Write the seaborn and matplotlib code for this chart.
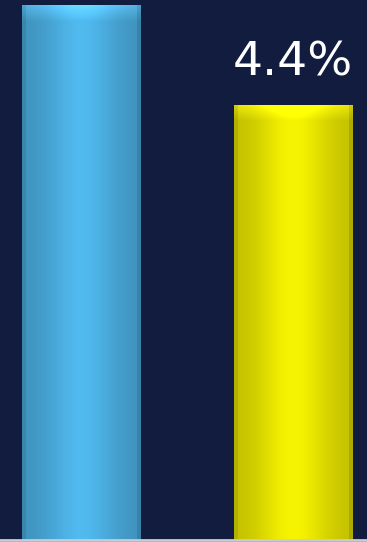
import numpy as np
import pandas as pd
import seaborn as sns
import matplotlib.pyplot as plt
from matplotlib.colors import to_rgb

# Data
categories = ["A", "B"]
values = [5.41, 4.4]
bar_colors = ["#4fb6ea", "#f2ef00"]
labels = [None, "4.4%"]

bg = "#111c3e"
PX_PER_UNIT = 98.86


def shade_bar(ax, patch, color):
    # soft cylinder-like shading with a bevelled top, clipped to the bar
    x0, y0 = patch.get_x(), patch.get_y()
    w, h = patch.get_width(), patch.get_height()
    nx, ny = 120, int(h * PX_PER_UNIT)
    xs = np.linspace(0, 1, nx)
    prof = 0.8 + 0.22 * np.exp(-((xs - 0.5) / 0.3) ** 2)
    prof[xs < 0.03] *= 0.9
    prof[xs > 0.97] *= 0.88
    img = np.ones((ny, nx, 3)) * np.array(to_rgb(color))
    img *= prof[None, :, None]
    # top bevel: ~16 px, brightest at the top, fading down
    bev = 16
    for i in range(min(bev, ny)):
        f = 1 - i / bev
        img[i] = img[i] * (1 + 0.12 * f) + 0.05 * f
    img = np.clip(img, 0, 1)
    im = ax.imshow(img, extent=(x0, x0 + w, y0, y0 + h), aspect="auto",
                   origin="upper", zorder=3, interpolation="bilinear")
    im.set_clip_path(patch)


def plot_chart():
    df = pd.DataFrame({"cat": categories, "val": values})

    fig = plt.figure(figsize=(3.67, 5.42), dpi=100, facecolor=bg)
    ax = fig.add_axes([0, 0, 1, 1])
    ax.set_facecolor(bg)

    sns.barplot(data=df, x="cat", y="val", hue="cat", palette=bar_colors,
                width=0.56, legend=False, ax=ax, saturation=1)

    for patch, color in zip(ax.patches, bar_colors):
        patch.set_edgecolor("none")
        shade_bar(ax, patch, color)

    for i, (v, lab) in enumerate(zip(values, labels)):
        if lab:
            ax.text(i, v + 0.2, lab, ha="center", va="bottom", color="white",
                    fontsize=34, family="DejaVu Sans")

    ax.axhline(0, color="#c8ccd6", lw=2, zorder=4)
    ax.set_xlim(-0.385, 1.35)
    ax.set_ylim(-0.02, 5.462)
    ax.axis("off")

    fig.savefig("out.png", dpi=100, facecolor=bg)


if __name__ == "__main__":
    plot_chart()
